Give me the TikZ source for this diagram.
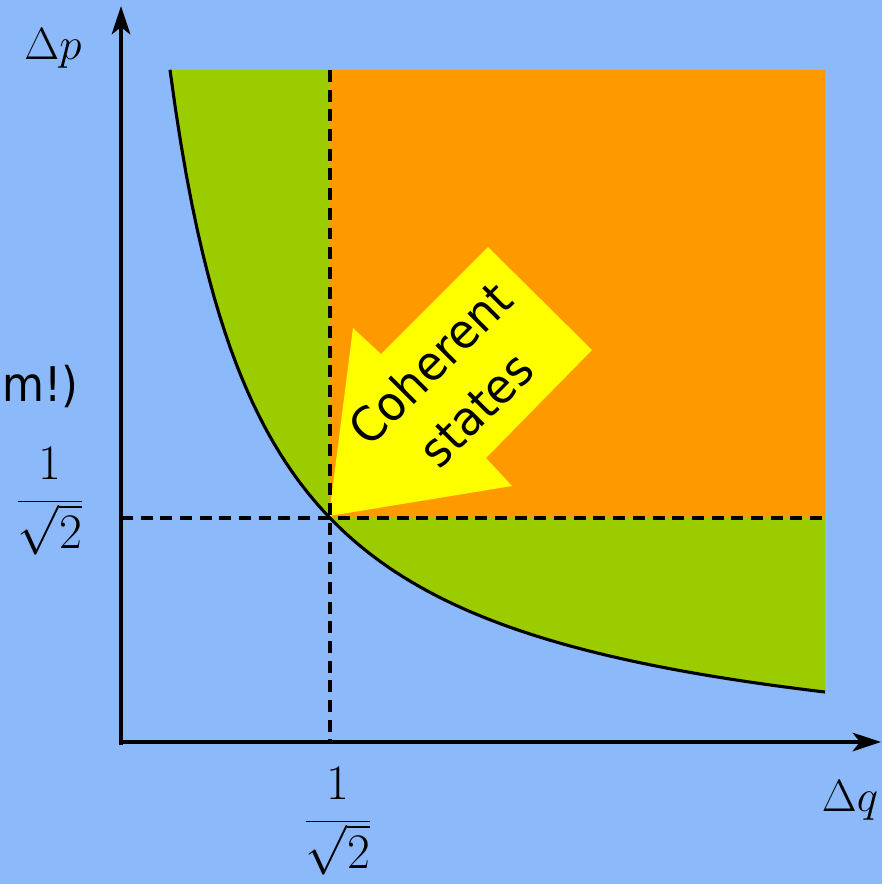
\documentclass[tikz,border=0pt]{standalone}
\usepackage{fontspec}
\newfontfamily\labelfont{DejaVu Sans}
\usetikzlibrary{arrows.meta}
\definecolor{skyblue}{RGB}{139,185,250}
\definecolor{regiongreen}{RGB}{155,204,0}
\definecolor{regionorange}{RGB}{255,153,0}
\definecolor{pointeryellow}{RGB}{255,255,0}

\begin{document}
\begin{tikzpicture}[
        x=0.025cm, y=-0.025cm,
        axis/.style={line width=3.2pt, -{Stealth[length=20pt, width=13pt, inset=5pt]}},
        guide/.style={line width=2.2pt, dash pattern=on 8.5pt off 5.5pt},
        boundary/.style={line width=2.2pt},
        mathlabel/.style={font=\Huge, scale=1.29, inner sep=0pt},
        fraclabel/.style={font=\Huge, scale=1.42, inner sep=0pt, anchor=base},
        textlabel/.style={font=\labelfont\fontsize{34}{46}\selectfont, inner sep=0pt, align=center}
    ]
        % Background.
        \fill[skyblue] (0,0) rectangle (882,884);
        \useasboundingbox (0,0) rectangle (882,884);

        % Allowed region and the square of large spreads.
        \fill[regiongreen] plot[domain=170:825, samples=120] (\x, {781.3-66.88/((\x-76)/1000)}) -- (825,70) -- cycle;
        \fill[regionorange] (330,70) rectangle (825,518);

        % Pointer to the coherent states.
        \fill[pointeryellow] (329,516) -- (353,328) -- (381,354) -- (488,247) -- (592,350)
            -- (486,458) -- (512,486) -- cycle;
        \node[textlabel, rotate=45, xscale=0.94] (coherent) at (453,386) {Coherent\\states};

        % Guide lines through the minimum.
        \coordinate (minpoint) at (330,518);
        \coordinate (qfoot) at (330,742);
        \coordinate (pfoot) at (121,518);
        \draw[guide] (330,70) -- (qfoot);
        \draw[guide] (pfoot) -- (825,518);

        % Boundary of the uncertainty relation.
        \draw[boundary] plot[domain=170:825, samples=120] (\x, {781.3-66.88/((\x-76)/1000)});

        % Axes.
        \coordinate (origin) at (121,742);
        \coordinate (ptip) at (121,6);
        \coordinate (qtip) at (881,742);
        \draw[axis] (121,744.5) -- (ptip);
        \draw[axis] (118.5,742) -- (qtip);

        % Labels.
        \node[mathlabel] (plabel) at (53,48) {$\Delta p$};
        \node[mathlabel] (qlabel) at (850,800) {$\Delta q$};
        \node[fraclabel] (pvalue) at (50,513.5) {$\displaystyle\frac{1}{\sqrt{2}}$};
        \node[fraclabel] (qvalue) at (338,833.5) {$\displaystyle\frac{1}{\sqrt{2}}$};
        \node[font=\labelfont\fontsize{34}{40}\selectfont, xscale=0.9, inner sep=0pt, anchor=base east] (remark) at (79,401) {um!)};
    \end{tikzpicture}
\end{document}
